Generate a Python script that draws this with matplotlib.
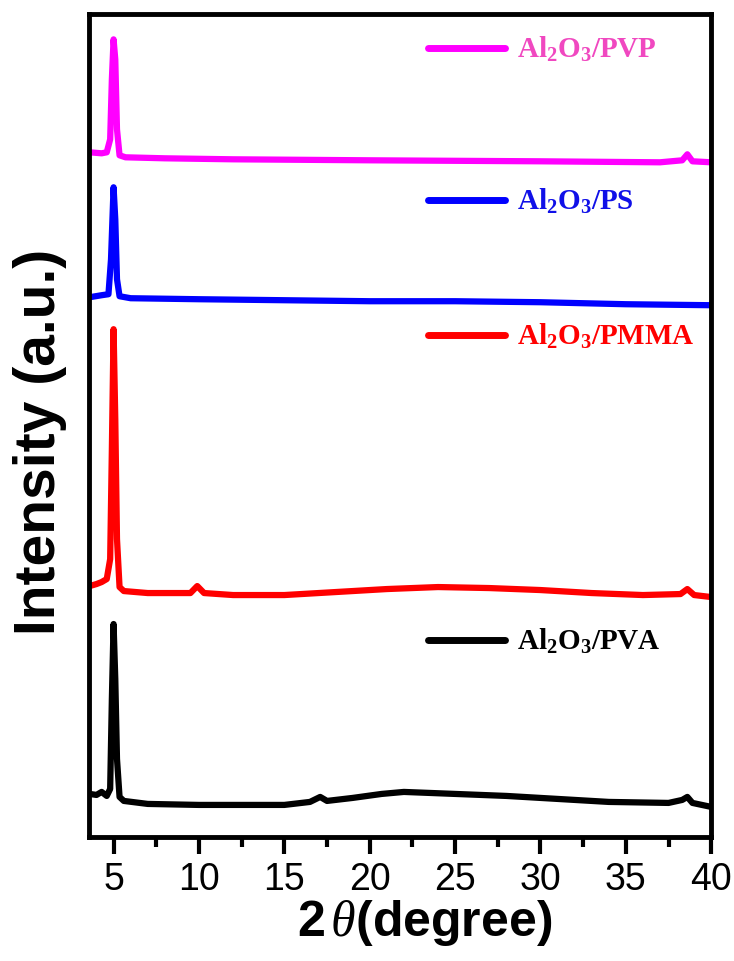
import numpy as np
import matplotlib.pyplot as plt
from matplotlib.ticker import MultipleLocator

# data (2theta, intensity in arbitrary units)
pva_x = [3.6, 4.0, 4.3, 4.6, 4.8, 4.9, 5.0, 5.1, 5.2, 5.35, 5.6, 7, 10, 13, 15, 16.5, 17.1, 17.5,
         19, 20.7, 22, 25, 28, 31, 34, 37.5, 38.3, 38.6, 38.9, 40]
pva_y = [43, 42, 45, 41, 48, 138, 213, 158, 78, 40, 36, 33, 32, 32, 32, 35, 40, 36,
         39, 43, 45, 43, 41, 38, 35, 34, 37, 40, 34, 30]

pmma_x = [3.6, 4.0, 4.3, 4.6, 4.8, 4.9, 5.0, 5.1, 5.2, 5.35, 5.6, 7, 9.5, 9.9, 10.3, 12, 15, 18,
          21, 24, 27, 30, 33, 36, 38.2, 38.6, 39, 40]
pmma_y = [251, 253, 255, 258, 278, 388, 508, 418, 298, 250, 246, 244, 244, 251, 244, 242, 242, 245,
          248, 250, 249, 247, 244, 242, 243, 248, 242, 240]

ps_x = [3.6, 4.3, 4.7, 4.85, 5.0, 5.1, 5.2, 5.35, 6, 10, 15, 20, 25, 30, 35, 40]
ps_y = [540, 542, 543, 578, 650, 618, 558, 541, 539, 538, 537, 536, 536, 535, 533, 532]

pvp_x = [3.6, 4.3, 4.6, 4.8, 4.9, 5.0, 5.1, 5.2, 5.35, 5.7, 8, 12, 20, 30, 37, 38.3, 38.6, 38.9, 40]
pvp_y = [685, 684, 685, 698, 758, 798, 778, 708, 682, 680, 679, 678, 677, 676, 675, 677, 683, 676, 675]

labels = ['Al$_2$O$_3$/PVP', 'Al$_2$O$_3$/PS', 'Al$_2$O$_3$/PMMA', 'Al$_2$O$_3$/PVA']
label_y = [789, 637, 502, 197]
colors = ['#ff00ff', '#0000ff', '#ff0000', '#000000']
text_colors = ['#f048c0', '#1010e8', '#ff0000', '#000000']

plt.rcParams['mathtext.default'] = 'regular'
plt.rcParams['mathtext.fontset'] = 'custom'
plt.rcParams['mathtext.it'] = 'Liberation Serif:italic'

fig = plt.figure(figsize=(7.34, 9.62), dpi=100)
ax = fig.add_axes([0.121, 0.129, 0.848, 0.855])

series = [(pvp_x, pvp_y), (ps_x, ps_y), (pmma_x, pmma_y), (pva_x, pva_y)]
for (xs, ys), c in zip(series, colors):
    ax.plot(xs, ys, color=c, lw=4.5, solid_joinstyle='round')

# hand-made legend: short line + label for each curve
for lab, ly, c, tc in zip(labels, label_y, colors, text_colors):
    ax.plot([23.4, 27.9], [ly, ly], color=c, lw=5, solid_capstyle='round')
    ax.text(28.6, ly, lab, color=tc, fontsize=21, fontweight='bold',
            family='Liberation Serif', va='center', ha='left')

ax.set_xlim(3.55, 40)
ax.set_ylim(0, 823)
ax.set_yticks([])
ax.xaxis.set_major_locator(MultipleLocator(5))
ax.xaxis.set_minor_locator(MultipleLocator(2.5))
ax.tick_params(axis='x', which='major', direction='out', length=12, width=3,
               labelsize=27, pad=5)
ax.tick_params(axis='x', which='minor', direction='out', length=7, width=3)
for lab in ax.get_xticklabels():
    lab.set_family('Liberation Sans')
for s in ax.spines.values():
    s.set_linewidth(3.5)

ax.set_xlabel(r'2$\,\mathit{\theta}$(degree)', fontsize=36, fontweight='bold',
              family='Liberation Sans', labelpad=0)
ax.xaxis.label.set_x(0.539)
ax.set_ylabel('Intensity (a.u.)', fontsize=41, fontweight='bold',
              family='Liberation Sans')
ax.yaxis.set_label_coords(-0.035, 0.482)

fig.savefig('out.png', dpi=100)
